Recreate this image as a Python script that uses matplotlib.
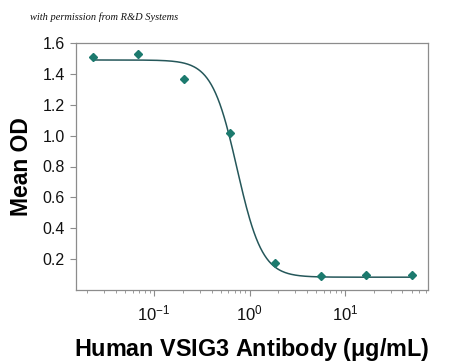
import numpy as np
import matplotlib
matplotlib.use("Agg")
import matplotlib.pyplot as plt
from matplotlib.ticker import LogLocator, FixedLocator, NullFormatter

plt.rcParams['font.family'] = ['Liberation Sans', 'DejaVu Sans']
plt.rcParams['mathtext.fontset'] = 'custom'
plt.rcParams['mathtext.rm'] = 'Liberation Sans'
plt.rcParams['mathtext.default'] = 'regular'

# measured points (antibody concentration in ug/mL, mean OD)
conc = [0.0229, 0.0686, 0.206, 0.617, 1.85, 5.56, 16.7, 50.0]
mean_od = [1.51, 1.53, 1.37, 1.02, 0.175, 0.09, 0.095, 0.10]

# 4-parameter logistic fit
fit_top = 1.49
fit_bottom = 0.083
fit_ec50 = 0.74
fit_hill = 3.3

y_ticks = [0.2, 0.4, 0.6, 0.8, 1.0, 1.2, 1.4, 1.6]
y_labels = ['0.2', '0.4', '0.6', '0.8', '1.0', '1.2', '1.4', '1.6']

fig = plt.figure(figsize=(4.5, 3.63), dpi=100)
ax = fig.add_axes([76/450, 1 - 290/363, (428-76)/450, (290-43)/363])

xs = np.logspace(np.log10(conc[0]), np.log10(conc[-1]), 300)
ys = fit_bottom + (fit_top - fit_bottom) / (1 + (xs / fit_ec50) ** fit_hill)
ax.plot(xs, ys, color='#25575a', lw=1.1, zorder=2)
ax.plot(conc, mean_od, ls='none', marker='D', ms=4.5, color='#1c7a6e',
        mec='#1c7a6e', zorder=3)

ax.set_xscale('log')
ax.set_xlim(0.0152, 74)
ax.set_ylim(0.0, 1.6)
ax.yaxis.set_major_locator(FixedLocator(y_ticks))
ax.set_yticklabels(y_labels)
ax.xaxis.set_major_locator(LogLocator(base=10, numticks=10))
ax.xaxis.set_minor_locator(LogLocator(base=10, subs=np.arange(2, 10), numticks=20))
ax.xaxis.set_minor_formatter(NullFormatter())

for s in ax.spines.values():
    s.set_color('#8c8c8c')
    s.set_linewidth(0.9)
ax.tick_params(axis='both', which='major', direction='out', length=4,
               color='#8c8c8c', labelcolor='#111111', pad=4)
ax.tick_params(axis='y', which='major', labelsize=11.5)
ax.tick_params(axis='x', which='major', labelsize=12, pad=6)
ax.tick_params(axis='x', which='minor', direction='out', length=2, color='#8c8c8c')

ax.set_xlabel('Human VSIG3 Antibody ($\\mu$g/mL)', fontsize=16.8, fontweight='bold', labelpad=9)
ax.set_ylabel('Mean OD', fontsize=16.5, fontweight='bold', labelpad=7)

fig.text(30/450, 1 - 17/363, 'with permission from R&D Systems', fontsize=7.5,
         family='Liberation Serif', style='italic', va='center', color='#111111')

fig.savefig('out.png', dpi=100)
